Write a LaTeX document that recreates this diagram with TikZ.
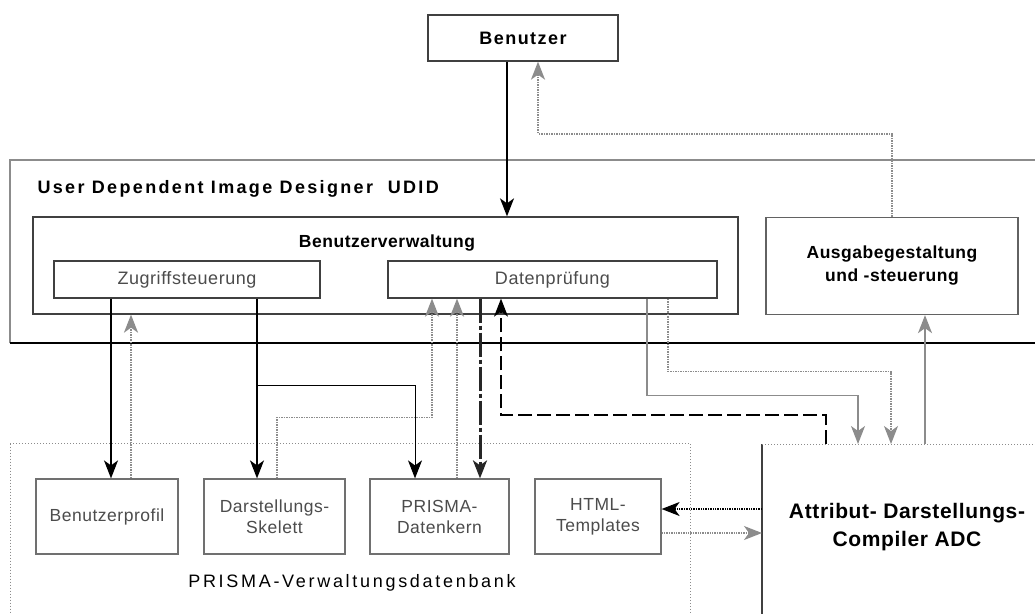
\documentclass[tikz,border=0pt]{standalone}
\usepackage{fontspec}
\setmainfont{Liberation Sans}
\newfontfamily\rfont{Liberation Sans}[LetterSpace=3]
\newfontfamily\benfont{Liberation Sans}[LetterSpace=8]
\newfontfamily\widetitle{Liberation Sans}[LetterSpace=13]
\newfontfamily\dbfont{Liberation Sans}[LetterSpace=15]
\usetikzlibrary{arrows.meta}
\definecolor{lg}{gray}{0.55}
\definecolor{bd}{gray}{0.25}
\definecolor{tx}{gray}{0.3}
\begin{document}
\begin{tikzpicture}[x=1pt,y=-1pt,
  box/.style={draw=bd, line width=1.3pt, fill=white, inner sep=0pt, align=center},
  lbox/.style={draw=lg!80!black, line width=1.2pt, fill=white, inner sep=0pt, align=center,
    minimum height=75pt, text=tx, font=\rfont\fontsize{17.5}{21}\selectfont},
  myhead/.style={-{Stealth[length=18pt,width=14pt,inset=5pt]}},
  blk/.style={black, line width=1.6pt, myhead},
  gry/.style={lg, line width=1.6pt, myhead},
  gdot/.style={lg, line width=2pt, dash pattern=on 1.5pt off 1pt, myhead}]
\useasboundingbox (0,0) rectangle (1035,613);
% x / y reference coordinates
\coordinate (x111) at (111,0);
\coordinate (x131) at (131,0);
\coordinate (x257) at (257,0);
\coordinate (x277) at (277,0);
\coordinate (x415) at (415,0);
\coordinate (x432) at (432,0);
\coordinate (x457) at (457,0);
\coordinate (x480) at (480,0);
\coordinate (x501) at (501,0);
\coordinate (x507) at (507,0);
\coordinate (x538) at (538,0);
\coordinate (x647) at (647,0);
\coordinate (x668) at (668,0);
\coordinate (x826) at (826,0);
\coordinate (x858) at (858,0);
\coordinate (x891) at (891,0);
\coordinate (x925) at (925,0);
\coordinate (y509) at (0,509);
\coordinate (y533) at (0,533);

% top
\node[box, minimum width=190pt, minimum height=46pt,
  font=\benfont\bfseries\fontsize{18}{21}\selectfont] (ben) at (523,38) {Benutzer};

% UDID frame
\node[minimum width=1040pt, minimum height=183pt, anchor=north west, inner sep=0pt] (udid) at (10,160) {};
\draw[lg, line width=1.2pt] (udid.south west) -- (udid.north west) -- (udid.north east);
\draw[black, line width=2pt] (udid.south west) -- (udid.south east);
\node[anchor=west, font=\widetitle\bfseries\fontsize{18}{21}\selectfont] (udidt) at (34,189)
  {User Dependent Image Designer\ \ UDID};

% Benutzerverwaltung
\node[box, minimum width=705pt, minimum height=97pt] (bv) at (385.5,265.5) {};
\node[font=\rfont\bfseries\fontsize{17.5}{21}\selectfont] (bvt) at (387,243) {Benutzerverwaltung};
\node[box, minimum width=266pt, minimum height=37pt, text=tx,
  font=\rfont\fontsize{18}{21}\selectfont] (zs) at (187,279.5) {Zugriffsteuerung};
\node[box, minimum width=329pt, minimum height=37pt, text=tx,
  font=\rfont\fontsize{18}{21}\selectfont] (dp) at (552.5,279.5) {Datenprüfung};

% Ausgabegestaltung
\node[box, draw=lg!70!black, minimum width=252pt, minimum height=97pt,
  font=\rfont\bfseries\fontsize{17.5}{23}\selectfont] (ag) at (892,266) {Ausgabegestaltung\\und -steuerung};

% PRISMA-Verwaltungsdatenbank
\node[draw=lg, dotted, line width=1pt, minimum width=680pt, minimum height=200pt,
  anchor=north west, inner sep=0pt] (db) at (10,443) {};
\node[font=\dbfont\fontsize{18}{21}\selectfont] (dbl) at (352,583) {PRISMA-Verwaltungsdatenbank};

\node[lbox, minimum width=142pt] (bp) at (107,516.5) {Benutzerprofil};
\node[lbox, minimum width=141pt] (ds) at (274.5,516.5) {Darstellungs-\\Skelett};
\node[lbox, minimum width=139pt] (pd) at (439.5,516.5) {PRISMA-\\Datenkern};
\node[lbox, minimum width=126pt] (ht) at (598,516.5) {HTML-\\Templates};

% ADC
\node[minimum width=300pt, minimum height=200pt, anchor=north west, inner sep=0pt] (adc) at (762,444) {};
\draw[bd, line width=1.4pt] (adc.north west) -- (adc.south west);
\draw[lg, dotted, line width=1pt] (adc.north west) -- (adc.north east);
\node[font=\rfont\bfseries\fontsize{21}{28}\selectfont, align=center] (adct) at (907,527)
  {Attribut- Darstellungs-\\Compiler ADC};

% connectors
\draw[blk] (ben.south -| x507) -- (bv.north -| x507);
\draw[gdot] (ag.north) -- ++(0,-83) -| (ben.south -| x538);
\draw[blk] (zs.south -| x111) -- (bp.north -| x111);
\draw[gdot] (bp.north -| x131) -- (bv.south -| x131);
\draw[blk] (zs.south -| x257) -- (ds.north -| x257);
\coordinate (br) at (257,385);
\draw[black, line width=1pt, myhead] (br) -| (pd.north -| x415);
\draw[gdot, line width=1.6pt] (ds.north -| x277) -- ++(0,-61) -| (dp.south -| x432);
\draw[gdot] (pd.north -| x457) -- (dp.south -| x457);
\draw[blk, black!85, line width=3pt, dash pattern=on 24pt off 3pt on 4pt off 3pt] (dp.south -| x480) -- (pd.north -| x480);
\draw[blk, line width=1.3pt, dash pattern=on 14pt off 5pt] (adc.north -| x826) -- ++(0,-29) -| (dp.south -| x501);
\draw[gry, line width=1.3pt] (dp.south -| x647) -- ++(0,97) -| (adc.north -| x858);
\draw[gdot, line width=1.6pt] (dp.south -| x668) -- ++(0,73) -| (adc.north -| x891);
\draw[gry] (adc.north -| x925) -- (ag.south -| x925);
\draw[black, densely dotted, line width=1.4pt, myhead] (adc.west |- y509) -- (ht.east |- y509);
\draw[lg, densely dotted, line width=1.4pt, myhead] (ht.east |- y533) -- (adc.west |- y533);
\end{tikzpicture}
\end{document}
